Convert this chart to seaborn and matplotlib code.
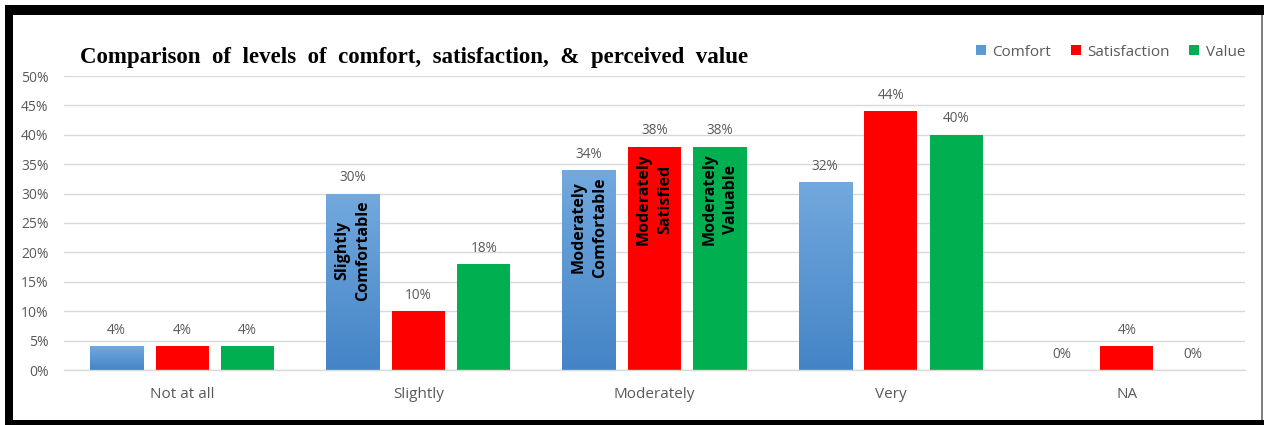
import numpy as np
import pandas as pd
import matplotlib
matplotlib.use("Agg")
import matplotlib.pyplot as plt
from matplotlib.patches import Patch, Rectangle
from matplotlib.colors import LinearSegmentedColormap
from matplotlib.ticker import FuncFormatter
import seaborn as sns

# Survey results (percent of respondents)
categories = ["Not at all", "Slightly", "Moderately", "Very", "NA"]
series = ["Comfort", "Satisfaction", "Value"]
comfort = [4, 30, 34, 32, 0]
satisfaction = [4, 10, 38, 44, 4]
value = [4, 18, 38, 40, 0]

# Descriptive text written inside selected bars
inner_comfort = ["", "Slightly\nComfortable", "Moderately\nComfortable", "", ""]
inner_satisfaction = ["", "", "Moderately\nSatisfied", "", ""]
inner_value = ["", "", "Moderately\nValuable", "", ""]

title = "Comparison  of  levels  of  comfort,  satisfaction,  &  perceived  value"
yticks = [0, 5, 10, 15, 20, 25, 30, 35, 40, 45, 50]

palette = {"Comfort": "#5b9bd5", "Satisfaction": "#ff0000", "Value": "#00b050"}
grad_top, grad_bottom = "#72a9de", "#4484c6"
text_gray = "#595959"
grid_gray = "#d9d9d9"

df = pd.DataFrame({
    "Level": categories * 3,
    "Series": [s for s in series for _ in categories],
    "Percent": comfort + satisfaction + value,
})
inner_labels = {"Comfort": inner_comfort, "Satisfaction": inner_satisfaction,
                "Value": inner_value}

sns.set_theme(style="white")
plt.rcParams["font.family"] = ["Open Sans", "DejaVu Sans"]

W, H = 1264, 425
fig = plt.figure(figsize=(W / 100, H / 100), dpi=100)
fig.patch.set_facecolor("white")
ax = fig.add_axes([64 / W, 1 - 370 / H, (1245 - 64) / W, (370 - 76) / H])

sns.barplot(data=df, x="Level", y="Percent", hue="Series", order=categories,
            hue_order=series, palette=palette, width=0.832, gap=0.19,
            saturation=1, ax=ax, legend=False, edgecolor="none")

xlim, ylim = (-0.5, len(categories) - 0.5), (0, 50)

# Vertical gradient on the Comfort bars
cmap = LinearSegmentedColormap.from_list("comfort_grad", [grad_bottom, grad_top])
grad = np.linspace(0, 1, 256).reshape(-1, 1)
for bar in ax.containers[0]:
    h = bar.get_height()
    if h <= 0:
        continue
    x0, y0, w = bar.get_x(), bar.get_y(), bar.get_width()
    im = ax.imshow(grad, extent=[x0, x0 + w, y0, y0 + h], aspect="auto",
                   cmap=cmap, origin="lower", zorder=bar.get_zorder() + 0.1,
                   interpolation="bilinear")
    im.set_clip_path(bar)

ax.set_xlim(*xlim)
ax.set_ylim(*ylim)

# Value labels above every bar
for cont in ax.containers:
    ax.bar_label(cont, labels=[f"{b.get_height():.0f}%" for b in cont],
                 padding=6, fontsize=9.8, color=text_gray)

# Rotated descriptive labels inside bars
for cont, name in zip(ax.containers, series):
    for bar, txt in zip(cont, inner_labels[name]):
        if not txt:
            continue
        ax.annotate(txt, xy=(bar.get_x() + bar.get_width() / 2, bar.get_height()),
                    xytext=(0, -5), textcoords="offset points", rotation=90,
                    ha="center", va="top", multialignment="center",
                    fontsize=11.5, fontweight="bold", color="black",
                    linespacing=1.45, zorder=5)

ax.set_yticks(yticks)
ax.yaxis.set_major_formatter(FuncFormatter(lambda v, p: f"{v:.0f}%"))
ax.yaxis.grid(True, color=grid_gray, linewidth=1)
ax.set_axisbelow(True)
for side in ["top", "right", "left"]:
    ax.spines[side].set_visible(False)
ax.spines["bottom"].set_color(grid_gray)
ax.spines["bottom"].set_linewidth(1)
ax.tick_params(axis="both", length=0)
ax.tick_params(axis="y", labelsize=10, labelcolor=text_gray, pad=11)
ax.tick_params(axis="x", labelsize=11, labelcolor=text_gray, pad=12)
ax.set_xlabel("")
ax.set_ylabel("")

fig.text(80 / W, 1 - 57 / H, title, fontsize=16.5, fontweight="bold",
         family="Liberation Serif", color="black", va="center", ha="left")

handles = [Patch(facecolor=palette[s], edgecolor="none") for s in series]
fig.legend(handles, series, loc="center right",
           bbox_to_anchor=(1245 / W, 1 - 52 / H), ncol=3, frameon=False,
           handlelength=0.65, handleheight=0.65, handletextpad=0.4,
           columnspacing=1.3, fontsize=11, labelcolor=text_gray,
           borderaxespad=0, borderpad=0)

# Outer frame
def px_rect(x0, y0, x1, y1, color):
    fig.add_artist(Rectangle((x0 / W, 1 - y1 / H), (x1 - x0) / W, (y1 - y0) / H,
                             transform=fig.transFigure, facecolor=color,
                             edgecolor="none", zorder=10))

px_rect(5, 5, W, 15, "black")
px_rect(5, 5, 13, H, "black")
px_rect(5, 420, W, H, "black")
px_rect(1261, 15, 1263, 420, "#7f7f7f")

fig.savefig("out.png", dpi=100, facecolor="white")
